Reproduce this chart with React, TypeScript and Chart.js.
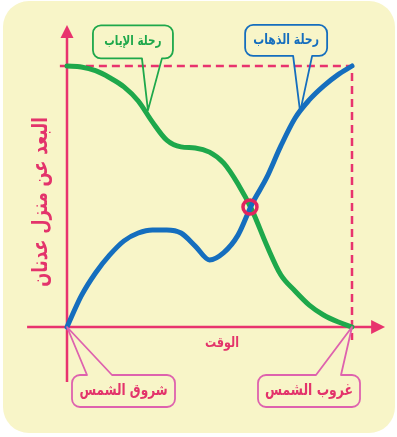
import React, { useEffect, useRef } from 'react';
import { Chart, registerables } from 'chart.js';

Chart.register(...registerables);

// ---- data ----
const timeValues = [0, 0.5, 1, 1.5, 2, 2.5, 3, 3.5, 4, 4.5, 5, 5.5, 6, 6.5, 7, 7.5, 8, 8.5, 9, 9.5, 10];
const outboundDistance = [0, 1.19, 2.07, 2.76, 3.3, 3.6, 3.72, 3.72, 3.6, 3.1, 2.57, 2.85, 3.52, 4.73, 5.71, 6.93, 8.0, 8.7, 9.23, 9.66, 10];
const returnDistance = [10, 9.96, 9.82, 9.55, 9.2, 8.66, 7.85, 7.16, 6.9, 6.86, 6.7, 6.28, 5.48, 4.46, 3.15, 2.0, 1.38, 0.84, 0.46, 0.2, 0];
const crossingX = [6.42];
const crossingY = [4.6];
const guideX = [-0.25, 10, 10];
const guideY = [10, 10, -0.5];
const yAxisTitle = 'البعد عن منزل عدنان';
const xAxisTitle = 'الوقت';
const calloutLabels = ['رحلة الإياب', 'رحلة الذهاب', 'شروق الشمس', 'غروب الشمس'];
const calloutAnchorX = [2.84, 8.18, 0, 10];
const calloutAnchorY = [8.3, 8.24, 0, 0];

// ---- styles / layout ----
const BG = '#F8F5C8';
const PINK = '#E8336E';
const GREEN = '#1EA84B';
const BLUE = '#156EBE';
const CALLOUT_PINK = '#DE62AE';
const CALLOUT_TEXT_PINK = '#E3336B';
const FONT = "'DejaVu Sans', sans-serif";
const TEXT_STRETCH = 1.3;

const calloutStyle = [
  { dx: -55, dy: -85, w: 80, h: 33, ta: -6, tb: 14, stroke: GREEN, text: GREEN, size: 16, fit: 57 },
  { dx: -55, dy: -87, w: 82, h: 31, ta: -7, tb: 12, stroke: BLUE, text: BLUE, size: 16, fit: 66 },
  { dx: 5, dy: 48, w: 103, h: 32, ta: 20, tb: 45, stroke: CALLOUT_PINK, text: CALLOUT_TEXT_PINK, size: 20, fit: 88 },
  { dx: -94, dy: 48, w: 102, h: 32, ta: -36, tb: -11, stroke: CALLOUT_PINK, text: CALLOUT_TEXT_PINK, size: 20, fit: 88 },
];

function roundRectPath(ctx: CanvasRenderingContext2D, x: number, y: number, w: number, h: number, r: number) {
  ctx.beginPath();
  ctx.moveTo(x + r, y);
  ctx.lineTo(x + w - r, y);
  ctx.arcTo(x + w, y, x + w, y + r, r);
  ctx.lineTo(x + w, y + h - r);
  ctx.arcTo(x + w, y + h, x + w - r, y + h, r);
  ctx.lineTo(x + r, y + h);
  ctx.arcTo(x, y + h, x, y + h - r, r);
  ctx.lineTo(x, y + r);
  ctx.arcTo(x, y, x + r, y, r);
  ctx.closePath();
}

function calloutPath(
  ctx: CanvasRenderingContext2D, x: number, y: number, w: number, h: number, r: number,
  ta: number, tb: number, tipX: number, tipY: number, tailBottom: boolean
) {
  ctx.beginPath();
  ctx.moveTo(x + r, y);
  if (!tailBottom) {
    ctx.lineTo(ta, y);
    ctx.lineTo(tipX, tipY);
    ctx.lineTo(tb, y);
  }
  ctx.lineTo(x + w - r, y);
  ctx.arcTo(x + w, y, x + w, y + r, r);
  ctx.lineTo(x + w, y + h - r);
  ctx.arcTo(x + w, y + h, x + w - r, y + h, r);
  if (tailBottom) {
    ctx.lineTo(tb, y + h);
    ctx.lineTo(tipX, tipY);
    ctx.lineTo(ta, y + h);
  }
  ctx.lineTo(x + r, y + h);
  ctx.arcTo(x, y + h, x, y + h - r, r);
  ctx.lineTo(x, y + r);
  ctx.arcTo(x, y, x + r, y, r);
  ctx.closePath();
}

function fitFont(ctx: CanvasRenderingContext2D, text: string, size: number, target: number) {
  ctx.font = `bold ${size}px ${FONT}`;
  const w = ctx.measureText(text).width;
  const s = Math.min(size, (size * target) / w);
  ctx.font = `bold ${s.toFixed(1)}px ${FONT}`;
}

// draws text centred at (cx, cy) with a slight vertical stretch (tall naskh-like look)
function drawTallText(ctx: CanvasRenderingContext2D, text: string, cx: number, cy: number) {
  ctx.save();
  ctx.translate(cx, cy);
  ctx.scale(1, TEXT_STRETCH);
  ctx.textAlign = 'center';
  ctx.textBaseline = 'middle';
  ctx.fillText(text, 0, 0);
  ctx.restore();
}

const decorPlugin = {
  id: 'decor',
  beforeDraw(chart: any) {
    const ctx: CanvasRenderingContext2D = chart.ctx;
    ctx.save();
    ctx.fillStyle = '#ffffff';
    ctx.fillRect(0, 0, chart.width, chart.height);
    ctx.fillStyle = BG;
    roundRectPath(ctx, 3, 1, 392, 432, 26);
    ctx.fill();
    ctx.restore();
  },
  beforeDatasetsDraw(chart: any) {
    const ctx: CanvasRenderingContext2D = chart.ctx;
    const xs = chart.scales.x;
    const ys = chart.scales.y;
    const x0 = xs.getPixelForValue(0);
    const y0 = ys.getPixelForValue(0);
    ctx.save();
    ctx.strokeStyle = PINK;
    ctx.fillStyle = PINK;
    ctx.lineWidth = 2.5;
    // x axis
    ctx.beginPath();
    ctx.moveTo(xs.getPixelForValue(-1.4), y0);
    ctx.lineTo(xs.getPixelForValue(10.8), y0);
    ctx.stroke();
    const xTip = xs.getPixelForValue(11.16);
    const xBase = xs.getPixelForValue(10.67);
    ctx.beginPath();
    ctx.moveTo(xTip, y0);
    ctx.lineTo(xBase, y0 - 7);
    ctx.lineTo(xBase, y0 + 7);
    ctx.closePath();
    ctx.fill();
    // y axis
    ctx.beginPath();
    ctx.moveTo(x0, ys.getPixelForValue(-2.11));
    ctx.lineTo(x0, ys.getPixelForValue(11.2));
    ctx.stroke();
    const yTip = ys.getPixelForValue(11.57);
    const yBase = ys.getPixelForValue(11.07);
    ctx.beginPath();
    ctx.moveTo(x0, yTip);
    ctx.lineTo(x0 - 6.5, yBase);
    ctx.lineTo(x0 + 6.5, yBase);
    ctx.closePath();
    ctx.fill();

    // axis titles
    ctx.fillStyle = CALLOUT_TEXT_PINK;
    fitFont(ctx, xAxisTitle, 17, 34);
    drawTallText(ctx, xAxisTitle, 222, 343);
    ctx.save();
    ctx.translate(41, 202);
    ctx.rotate(-Math.PI / 2);
    fitFont(ctx, yAxisTitle, 26, 170);
    drawTallText(ctx, yAxisTitle, 0, 0);
    ctx.restore();
    ctx.restore();
  },
  afterDatasetsDraw(chart: any) {
    const ctx: CanvasRenderingContext2D = chart.ctx;
    const xs = chart.scales.x;
    const ys = chart.scales.y;
    ctx.save();
    calloutLabels.forEach((label, i) => {
      const st = calloutStyle[i];
      const tipX = xs.getPixelForValue(calloutAnchorX[i]);
      const tipY = ys.getPixelForValue(calloutAnchorY[i]);
      const bx = tipX + st.dx;
      const by = tipY + st.dy;
      const tailBottom = st.dy < 0;
      ctx.fillStyle = BG;
      roundRectPath(ctx, bx, by, st.w, st.h, 8);
      ctx.fill();
      ctx.strokeStyle = st.stroke;
      ctx.lineWidth = 1.8;
      ctx.lineJoin = 'round';
      calloutPath(ctx, bx, by, st.w, st.h, 8, tipX + st.ta, tipX + st.tb, tipX, tipY, tailBottom);
      ctx.stroke();
      ctx.fillStyle = st.text;
      fitFont(ctx, label, st.size, st.fit);
      drawTallText(ctx, label, bx + st.w / 2, by + st.h / 2);
    });
    ctx.restore();
  },
};

export default function App() {
  const ref = useRef<HTMLCanvasElement | null>(null);
  useEffect(() => {
    if (!ref.current) return;
    const pts = (xs: number[], ys: number[]) => xs.map((x, i) => ({ x, y: ys[i] }));
    const chart = new Chart(ref.current, {
      type: 'line',
      data: {
        datasets: [
          {
            data: pts(crossingX, crossingY),
            showLine: false,
            pointRadius: 7,
            pointHoverRadius: 7,
            pointBorderWidth: 3.5,
            pointBorderColor: '#E2245E',
            pointBackgroundColor: 'rgba(0,0,0,0)',
          },
          {
            data: pts(timeValues, outboundDistance),
            borderColor: BLUE,
            borderWidth: 5,
            pointRadius: 0,
            cubicInterpolationMode: 'monotone',
            borderCapStyle: 'round',
            fill: false,
          },
          {
            data: pts(timeValues, returnDistance),
            borderColor: GREEN,
            borderWidth: 5,
            pointRadius: 0,
            cubicInterpolationMode: 'monotone',
            borderCapStyle: 'round',
            fill: false,
          },
          {
            data: pts(guideX, guideY),
            borderColor: PINK,
            borderWidth: 2.5,
            borderDash: [8, 5],
            pointRadius: 0,
            tension: 0,
            fill: false,
          },
        ],
      },
      options: {
        responsive: false,
        maintainAspectRatio: false,
        animation: false,
        devicePixelRatio: 1,
        layout: { padding: 0, autoPadding: false },
        events: [],
        plugins: { legend: { display: false }, tooltip: { enabled: false }, title: { display: false } },
        scales: {
          x: { type: 'linear', display: false, min: -67 / 28.5, max: (397 - 67) / 28.5 },
          y: { type: 'linear', display: false, min: -(437 - 327) / 26.1, max: 327 / 26.1 },
        },
      },
      plugins: [decorPlugin],
    } as any);
    return () => chart.destroy();
  }, []);
  return (
    <div style={{ position: 'fixed', left: 0, top: 0, width: 397, height: 437 }}>
      <canvas ref={ref} width={397} height={437} style={{ display: 'block', width: 397, height: 437 }} />
    </div>
  );
}
